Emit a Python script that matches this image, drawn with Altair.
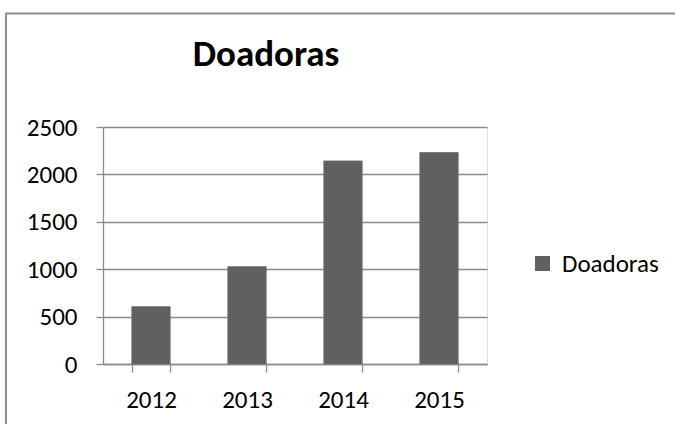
import altair as alt
import pandas as pd

years = ["2012", "2013", "2014", "2015"]
values = [605, 1027, 2142, 2231]
series = ["Doadoras"] * 4

FONT = "Carlito, Calibri, Lato, sans-serif"

df = pd.DataFrame({"ano": years, "valor": values, "serie": series})

bars = alt.Chart(df).mark_bar(color="#606060", stroke="#6e6e6e", strokeWidth=0.8).encode(
    x=alt.X("ano:N", title=None,
            scale=alt.Scale(paddingInner=0.6, paddingOuter=0.3),
            axis=alt.Axis(labelAngle=0, tickBand="extent", tickSize=8, labelPadding=35,
                          labelBaseline="alphabetic", labelFontSize=25, labelFont=FONT,
                          labelColor="#000000", domainColor="#8a8a8a", tickColor="#8a8a8a",
                          domainWidth=1.3, tickWidth=1.3, grid=False)),
    y=alt.Y("valor:Q", title=None,
            scale=alt.Scale(domain=[0, 2500]),
            axis=alt.Axis(values=[0, 500, 1000, 1500, 2000, 2500], format="d", tickSize=7,
                          labelPadding=19, labelFontSize=25, labelFont=FONT, labelColor="#000000",
                          domainColor="#8a8a8a", tickColor="#8a8a8a", gridColor="#8a8a8a",
                          domainWidth=1.3, tickWidth=1.3, gridWidth=1.3)),
    color=alt.Color("serie:N", scale=alt.Scale(range=["#606060"]),
                    legend=alt.Legend(title=None, orient="none", legendX=427, legendY=124,
                                      symbolType="square", symbolSize=225, symbolStrokeWidth=0,
                                      labelFontSize=25, labelFont=FONT, labelColor="#000000",
                                      labelOffset=7)),
)

border = alt.Chart(alt.Data(values=[{"k": 1}])).mark_rect(
    fill=None, stroke="#8f8f8f", strokeWidth=2
).encode(x=alt.value(-97), x2=alt.value(600), y=alt.value(-113.5), y2=alt.value(320))

chart = alt.layer(border, bars).properties(
    width=384, height=237,
    title=alt.TitleParams("Doadoras", fontSize=37, fontWeight="bold", font=FONT,
                          anchor="middle", dx=-29, frame="group", baseline="alphabetic",
                          offset=-90.5, color="#000000"),
    autosize=alt.AutoSizeParams(type="none"),
    padding={"left": 103, "top": 127, "right": 188, "bottom": 60},
).configure_view(stroke=None).configure(background="white")

chart.save("out.html", embed_options={"renderer": "svg", "actions": False})
